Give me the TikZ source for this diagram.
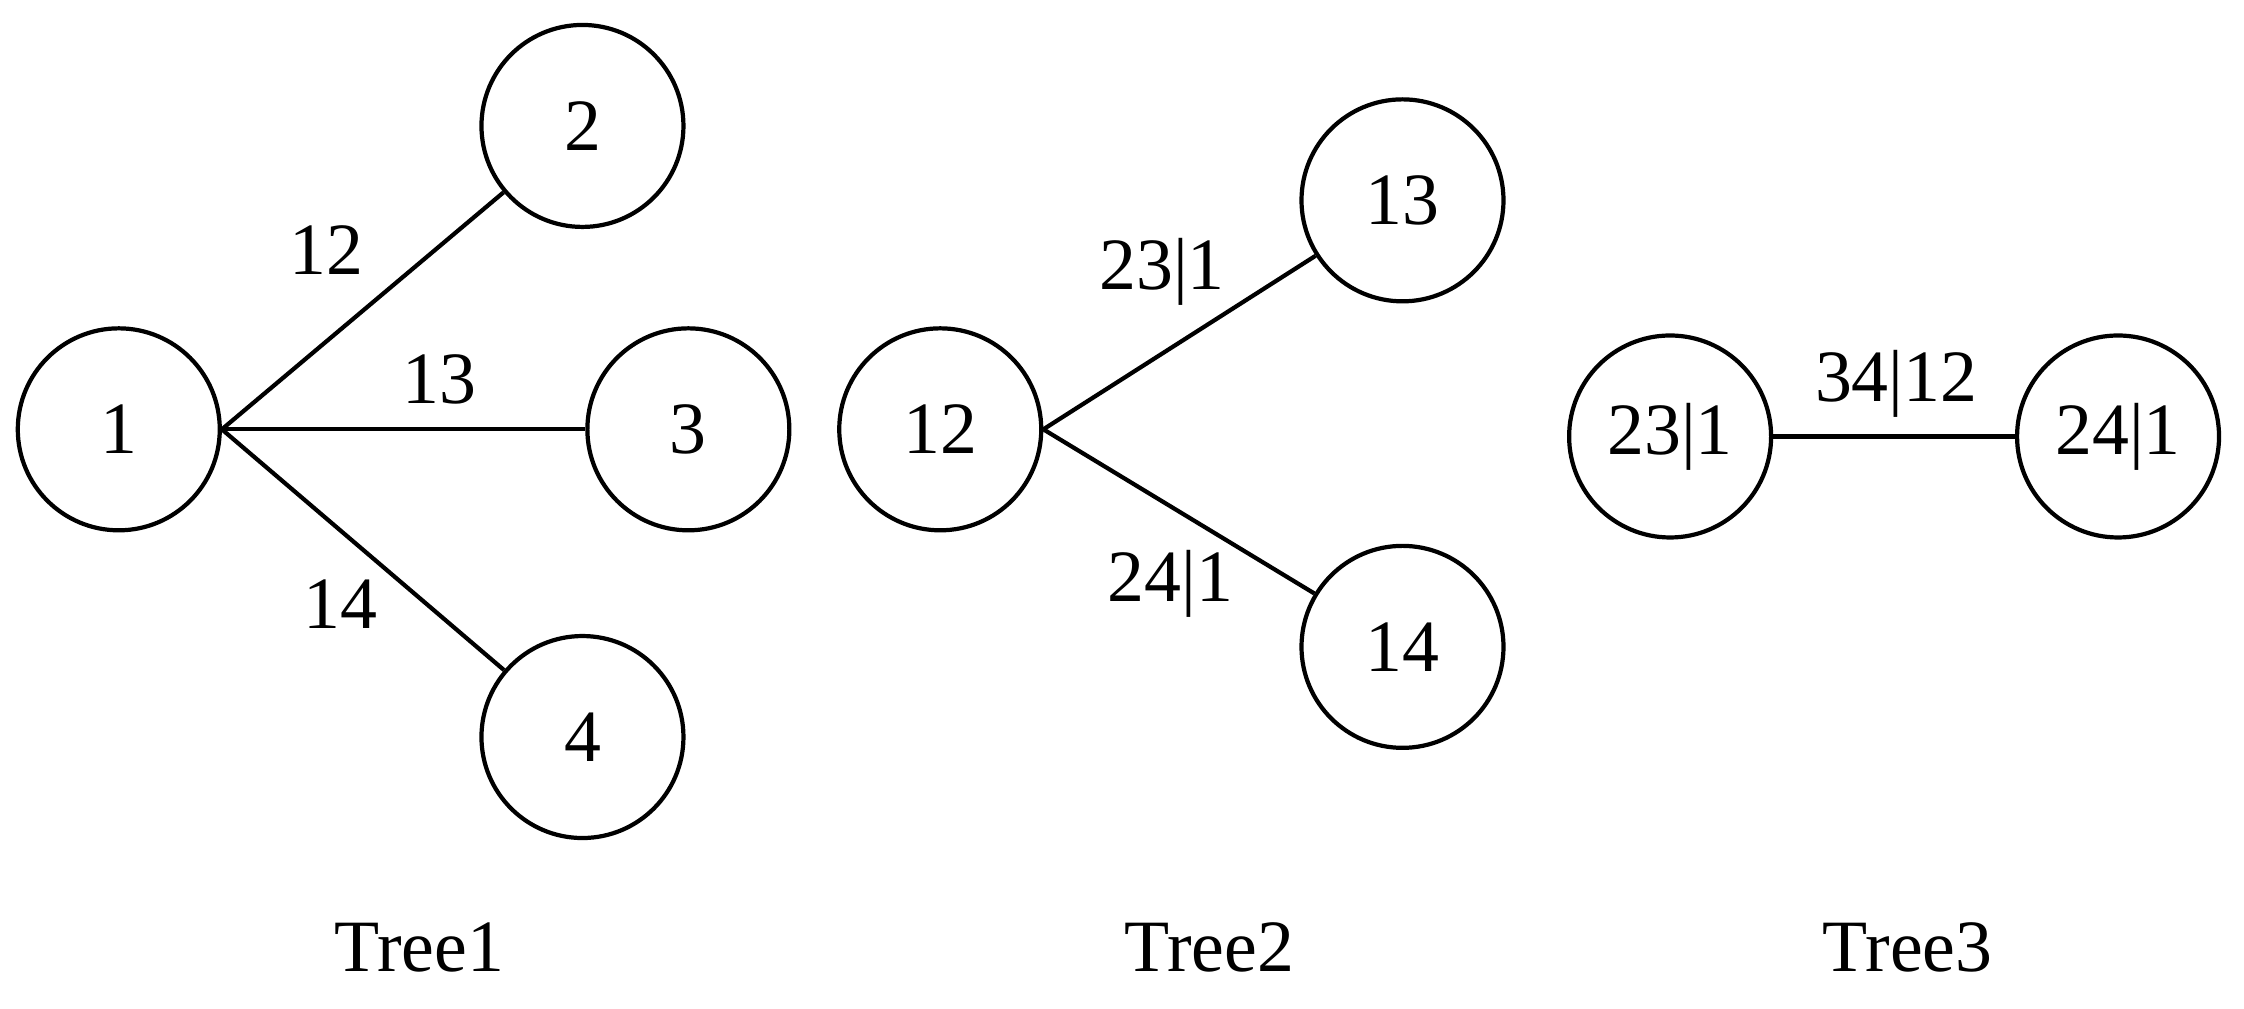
\documentclass[tikz,border=0pt]{standalone}
\usepackage{fontspec}
\setmainfont{Liberation Serif}
\usetikzlibrary{positioning}
\tikzset{vine/.style={shape=circle, draw, line width=1.2pt, minimum size=2.02cm,
    inner sep=0pt, font=\fontsize{21}{25}\selectfont}}
\tikzset{lbl/.style={font=\fontsize{21}{25}\selectfont}}

\begin{document}
\begin{tikzpicture}[x=0.01431cm, y=-0.01431cm, line width=1.2pt]
    \useasboundingbox (0,0) rectangle (1568,705);
    % Tree1
    \node[vine] (1) at (83,300) {1};
    \node[vine] (2) at (407,88) {2};
    \node[vine] (3) at (481,300) {3};
    \node[vine] (4) at (407,515) {4};
    \draw (1.east) -- (2);
    \draw (1.east) -- (3);
    \draw (1.east) -- (4);
    \node[lbl] (l12) at (228,175) {12};
    \node[lbl] (l13) at (307,265) {13};
    \node[lbl] (l14) at (238,422) {14};
    \node[lbl] (t1) at (293,662) {Tree1};
    % Tree2
    \node[vine] (12) at (657,300) {12};
    \node[vine] (13) at (980,140) {13};
    \node[vine] (14) at (980,452) {14};
    \draw (12.east) -- (13);
    \draw (12.east) -- (14);
    \node[lbl] (l231) at (812,190) {23|1};
    \node[lbl] (l241) at (818,408) {24|1};
    \node[lbl] (t2) at (845,662) {Tree2};
    % Tree3
    \node[vine] (231) at (1167,305) {23|1};
    \node[vine] (241) at (1480,305) {24|1};
    \draw (231) -- (241);
    \node[lbl] (l3412) at (1325,268) {34|12};
    \node[lbl] (t3) at (1333,662) {Tree3};
\end{tikzpicture}
\end{document}
